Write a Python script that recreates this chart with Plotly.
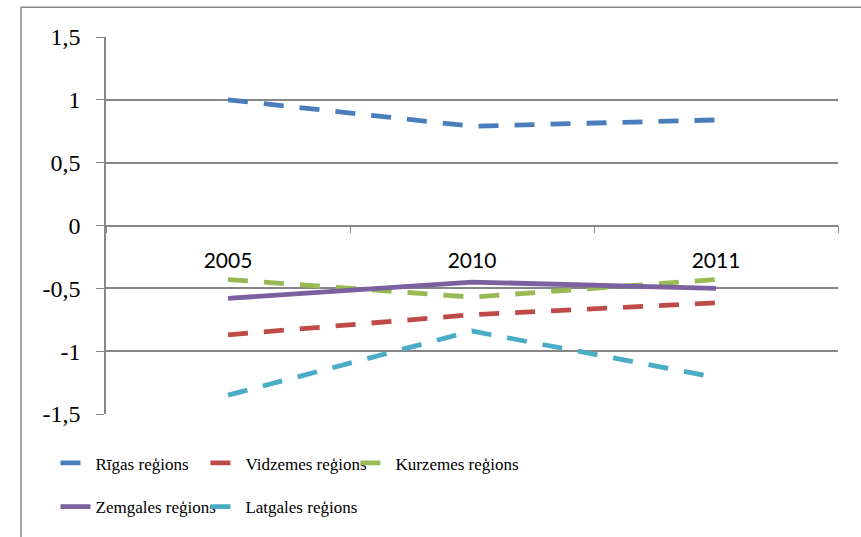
import plotly.graph_objects as go

years = ["2005", "2010", "2011"]
rigas = [1.00, 0.79, 0.84]
vidzemes = [-0.87, -0.71, -0.615]
kurzemes = [-0.43, -0.57, -0.43]
zemgales = [-0.58, -0.45, -0.50]
latgales = [-1.35, -0.84, -1.21]

y_ticks = [-1.5, -1, -0.5, 0, 0.5, 1, 1.5]
y_ticktext = ["-1,5", "-1", "-0,5", "0", "0,5", "1", "1,5"]

series = [
    ("Rīgas reģions", rigas, "#4A7EBB", "20px,16px"),
    ("Vidzemes reģions", vidzemes, "#BE4B48", "20px,16px"),
    ("Kurzemes reģions", kurzemes, "#98B954", "20px,16px"),
    ("Zemgales reģions", zemgales, "#7D60A0", "solid"),
    ("Latgales reģions", latgales, "#4BACC6", "20px,16px"),
]

# one legend per entry so the 3 + 2 grid can be placed exactly
legend_spots = [(-0.069, -0.131), (0.1358, -0.131), (0.3407, -0.131),
                (-0.069, -0.2468), (0.1358, -0.2468)]

grid = "#868686"
legend_font = dict(family="Liberation Serif", size=17, color="black")

fig = go.Figure()
legends = {}
for i, (name, vals, color, dash) in enumerate(series):
    key = "legend" if i == 0 else "legend%d" % (i + 1)
    fig.add_trace(go.Scatter(
        x=years, y=vals, name=name, mode="lines",
        line=dict(color=color, width=4.8, dash=dash),
        legend=key,
    ))
    lx, ly = legend_spots[i]
    legends[key] = dict(orientation="h", x=lx, xanchor="left", y=ly, yanchor="middle",
                        font=legend_font, bgcolor="rgba(0,0,0,0)")

fig.update_layout(
    width=861, height=537,
    margin=dict(l=106, r=23, t=37, b=119),
    plot_bgcolor="white", paper_bgcolor="white",
    showlegend=True,
    xaxis=dict(
        type="category", range=[-0.5, 2.5], anchor="free", position=0.5,
        showline=True, linecolor=grid, linewidth=1.5,
        ticks="outside", tickson="boundaries", ticklen=7, tickcolor=grid,
        showgrid=False, zeroline=False, automargin=False,
        tickfont=dict(family="Lato", size=21, color="black"),
        ticklabelstandoff=17,
    ),
    yaxis=dict(
        range=[-1.5, 1.5], tickvals=y_ticks, ticktext=y_ticktext,
        showline=True, linecolor=grid, linewidth=1.5,
        ticks="outside", ticklen=8, tickcolor=grid,
        showgrid=True, gridcolor=grid, gridwidth=1.5,
        zeroline=False, automargin=False,
        tickfont=dict(family="Liberation Serif", size=24, color="black"),
        ticklabelstandoff=11,
    ),
    shapes=[dict(type="rect", xref="paper", yref="paper",
                 x0=-0.1161, x1=1.2, y0=-0.5, y1=1.0787,
                 line=dict(color=grid, width=1.5), layer="below")],
    **legends,
)

# drop the browser's default body margin so the figure fills the window exactly
fig.write_html("out.html", config={"displayModeBar": False},
               post_script="document.body.style.margin = '0';")
